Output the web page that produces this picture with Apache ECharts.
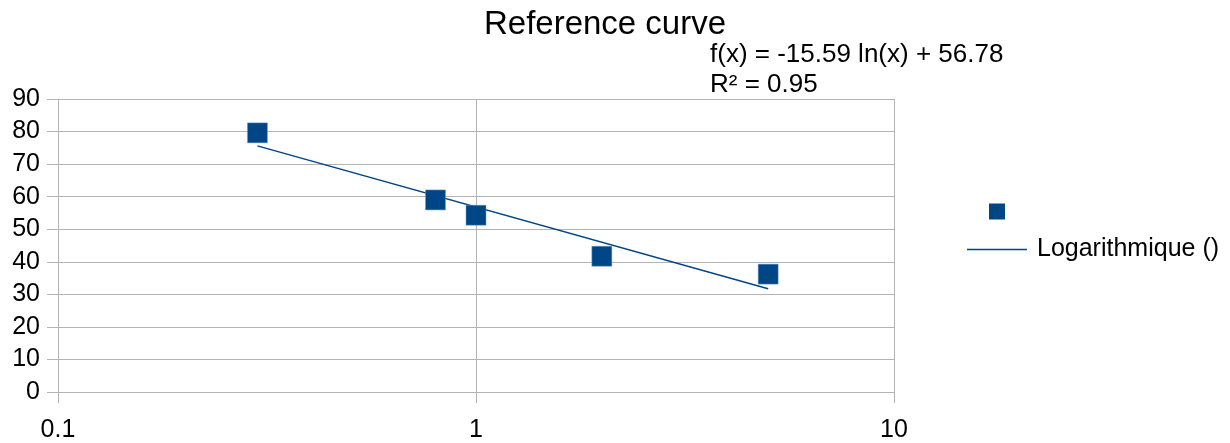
<!DOCTYPE html>
<html><head><meta charset="utf-8">
<script src="https://cdn.jsdelivr.net/npm/echarts@6/dist/echarts.min.js"></script>
<style>html,body{margin:0;padding:0;background:#fff}#c{width:1230px;height:443px}</style>
</head><body><div id="c"></div>
<script>
const xValues = [0.3, 0.8, 1, 2, 5];
const yValues = [79.6, 59.0, 54.3, 41.7, 36.2];
const trendX = [0.3, 5];
const trendY = [75.6, 31.7];
const titleText = 'Reference curve';
const equationLines = ['f(x) = -15.59 ln(x) + 56.78', 'R² = 0.95'];
const trendName = 'Logarithmique ()';
const pointName = ' ';

const FONT = 'Liberation Sans';
const C = '#004586';
const chart = echarts.init(document.getElementById('c'));
chart.setOption({
  animation: false,
  textStyle: {fontFamily: FONT},
  title: {text: titleText, left: 600, textAlign: 'center', top: 3,
    textStyle: {fontFamily: FONT, fontSize: 33, fontWeight: 'normal', color: '#000'}},
  grid: {left: 58, right: 336, top: 99, bottom: 48},
  xAxis: {type: 'log', logBase: 10, min: 0.1, max: 10,
    axisLine: {show: true, lineStyle: {color: '#b3b3b3'}},
    axisTick: {show: true, length: 11, lineStyle: {color: '#b3b3b3'}},
    splitLine: {show: true, lineStyle: {color: '#b3b3b3'}},
    axisLabel: {fontSize: 25, color: '#000', margin: 26, fontFamily: FONT,
      formatter: v => String(v)}},
  yAxis: {type: 'value', min: 0, max: 90, interval: 10,
    axisLine: {show: true, lineStyle: {color: '#b3b3b3'}},
    axisTick: {show: true, length: 11, lineStyle: {color: '#b3b3b3'}},
    splitLine: {show: true, lineStyle: {color: '#b3b3b3'}},
    axisLabel: {fontSize: 25, color: '#000', margin: 18, fontFamily: FONT}},
  legend: [
    {data: [pointName], orient: 'vertical', left: 984, top: 194, icon: 'rect',
      itemWidth: 16, itemHeight: 16, selectedMode: false,
      itemStyle: {borderWidth: 0, opacity: 1},
      textStyle: {fontSize: 25, color: '#000'}},
    {data: [trendName], orient: 'vertical', left: 962, top: 232, icon: 'rect',
      itemWidth: 60, itemHeight: 1.5, selectedMode: false,
      textStyle: {fontSize: 25, color: '#000', fontFamily: FONT, padding: [0, 0, 0, 5]}}
  ],
  graphic: [{type: 'text', left: 710, top: 40,
    style: {text: equationLines.join('\n'), font: '26px "Liberation Sans"', lineHeight: 30, fill: '#000'}}],
  series: [
    {name: pointName, type: 'scatter', symbol: 'rect', symbolSize: 20,
      itemStyle: {color: C, opacity: 1, borderColor: '#6f9fd0', borderWidth: 0.5},
      data: xValues.map((x, i) => [x, yValues[i]]), z: 3},
    {name: trendName, type: 'line', symbol: 'none', showSymbol: false,
      lineStyle: {color: C, width: 1.5},
      itemStyle: {color: C},
      data: trendX.map((x, i) => [x, trendY[i]]), z: 2}
  ]
});
</script></body></html>
